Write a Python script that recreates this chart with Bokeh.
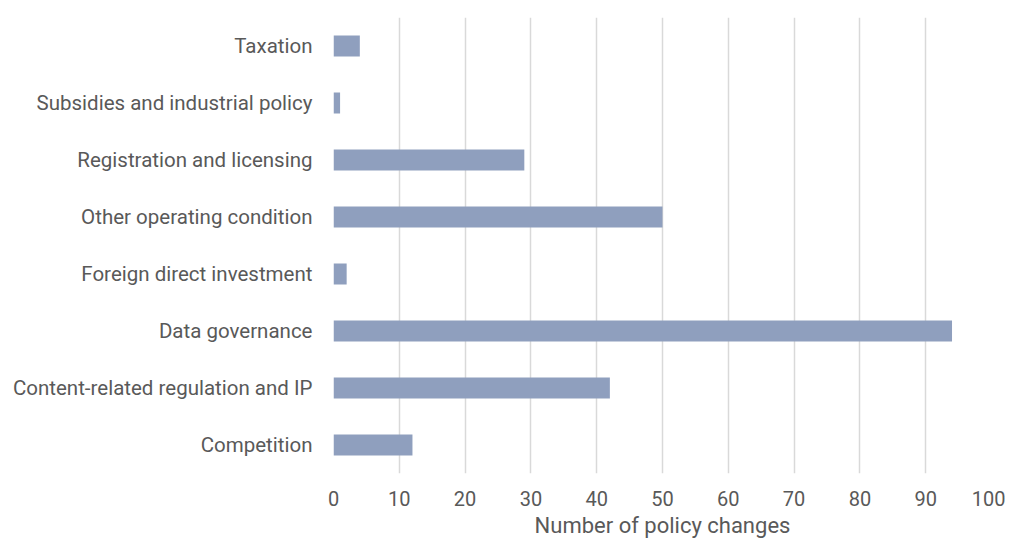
from bokeh.plotting import figure
from bokeh.models import Range1d, FactorRange, FixedTicker, ColumnDataSource
from bokeh.embed import file_html
from bokeh.resources import INLINE

categories = ["Competition", "Content-related regulation and IP", "Data governance",
              "Foreign direct investment", "Other operating condition",
              "Registration and licensing", "Subsidies and industrial policy", "Taxation"]
values = [12, 42, 94, 2, 50, 29, 1, 4]
x_ticks = [0, 10, 20, 30, 40, 50, 60, 70, 80, 90, 100]

src = ColumnDataSource(dict(cat=categories, val=values))

p = figure(y_range=FactorRange(*categories, range_padding=0), x_range=Range1d(0, 100),
           output_backend="svg", toolbar_location=None,
           frame_width=658, frame_height=456, min_border_left=333, min_border_right=14,
           min_border_top=17, min_border_bottom=66)
p.hbar(y="cat", right="val", left=0, height=0.37, source=src, color="#8f9fbe", line_color=None)

p.outline_line_color = None
p.background_fill_color = "white"
p.ygrid.grid_line_color = None
p.xgrid.grid_line_color = "#d9d9d9"
p.xgrid.grid_line_width = 1.5
p.xaxis.ticker = FixedTicker(ticks=x_ticks)
p.xaxis.axis_line_color = None
p.xaxis.major_tick_line_color = None
p.xaxis.minor_tick_line_color = None
p.xaxis.major_label_text_font = "Roboto"
p.xaxis.major_label_text_font_size = "20px"
p.xaxis.major_label_text_color = "#595959"
p.xaxis.major_label_standoff = 11
p.xaxis.axis_label = "Number of policy changes"
p.xaxis.axis_label_text_font = "Roboto"
p.xaxis.axis_label_text_font_size = "22px"
p.xaxis.axis_label_text_font_style = "normal"
p.xaxis.axis_label_text_color = "#595959"
p.xaxis.axis_label_standoff = 4

p.yaxis.axis_line_color = None
p.yaxis.major_tick_line_color = None
p.yaxis.minor_tick_line_color = None
p.yaxis.major_label_text_font = "Roboto"
p.yaxis.major_label_text_font_size = "20.5px"
p.yaxis.major_label_text_color = "#595959"
p.yaxis.major_label_standoff = 15

open("out.html", "w").write(file_html(p, INLINE))
